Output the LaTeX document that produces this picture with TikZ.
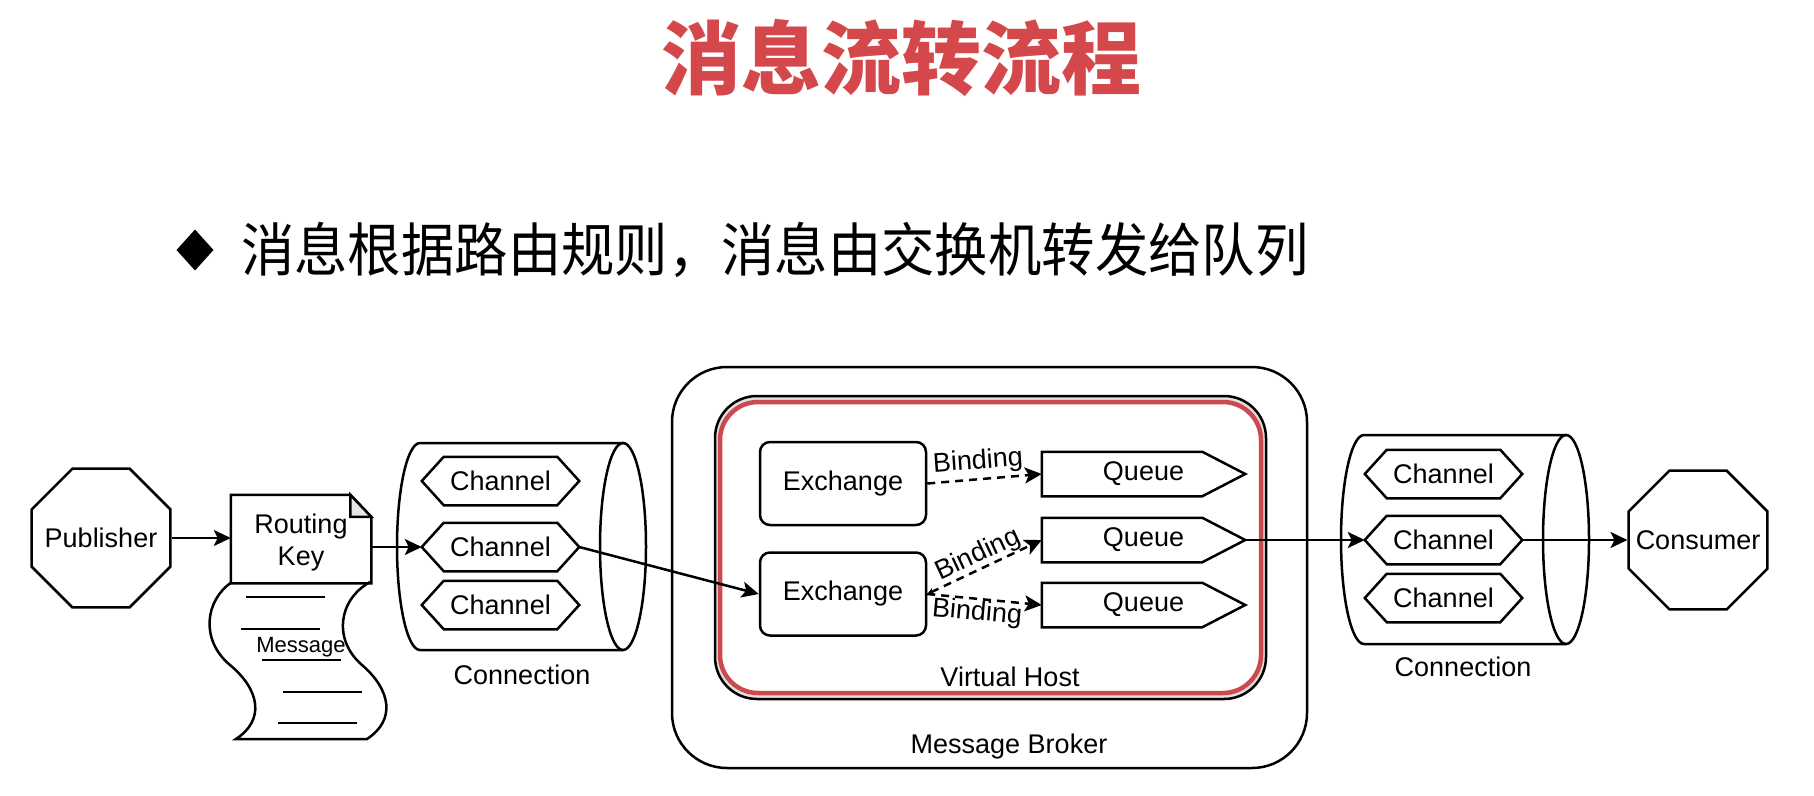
\documentclass[tikz,border=0pt]{standalone}
\usepackage{fontspec}
\setmainfont{Liberation Sans}
\newfontfamily\cjk{Noto Sans CJK SC}
\newfontfamily\cjknarrow[FakeStretch=0.92]{Noto Sans CJK SC}
\usetikzlibrary{shapes.geometric,arrows.meta,calc}
\definecolor{titlered}{HTML}{D4474B}
\definecolor{hostred}{HTML}{CC4A4D}

% outline of a channel (hexagon pointed on both sides)
\newcommand\chanoutline[1]{%
  \draw (#1.west) -- ([xshift=22pt]#1.north west) -- ([xshift=-22pt]#1.north east)
    -- (#1.east) -- ([xshift=-22pt]#1.south east) -- ([xshift=22pt]#1.south west) -- cycle;}
% outline of a queue (pointed on the right)
\newcommand\queueoutline[1]{%
  \draw (#1.north west) -- ([xshift=-43pt]#1.north east) -- (#1.east)
    -- ([xshift=-43pt]#1.south east) -- (#1.south west) -- cycle;}

\begin{document}
\begin{tikzpicture}[x=1pt,y=-1pt,line width=2.5pt,
  lbl/.style={font=\fontsize{27pt}{32pt}\selectfont,inner sep=0pt},
  octo/.style={regular polygon,regular polygon sides=8,minimum size=150pt,draw,inner sep=0pt},
  exbox/.style={draw,rectangle,rounded corners=10pt,minimum width=166pt,minimum height=83pt,
    inner sep=0pt,font=\fontsize{27pt}{32pt}\selectfont},
  chan/.style={rectangle,minimum width=155pt,minimum height=46pt,inner sep=0pt,
    font=\fontsize{27pt}{32pt}\selectfont},
  queuebox/.style={rectangle,minimum width=201pt,minimum height=42pt,inner sep=0pt,
    font=\fontsize{27pt}{32pt}\selectfont},
  conn/.style={-{Stealth[length=17pt,width=16pt,inset=4pt]}},
  bind/.style={conn,dash pattern=on 8pt off 6pt},
]
\useasboundingbox (0,0) rectangle (1814,795);
\fill[white] (0,0) rectangle (1814,795);

% headings
\node[font=\cjk\bfseries\fontsize{80pt}{90pt}\selectfont,text=titlered,inner sep=0pt] (title) at (901,58) {消息流转流程};
\node[diamond,fill=black,minimum width=38pt,minimum height=42pt,inner sep=0pt] (bullet) at (195,250) {};
\node[anchor=west,font=\cjknarrow\fontsize{58pt}{64pt}\selectfont,inner sep=0pt] (subtitle) at (240,250)
  {消息根据路由规则，消息由交换机转发给队列};

% publisher and consumer
\node[octo] (pub) at (101,538) {};
\node[lbl] (pubtext) at (pub.center) {Publisher};
\node[octo] (cons) at (1698,540) {};
\node[lbl] (constext) at (cons.center) {Consumer};

% routing key card with folded corner
\node[rectangle,minimum width=138pt,minimum height=86pt,inner sep=0pt] (rk) at (301,539) {};
\node[align=center,inner sep=0pt,font=\fontsize{27pt}{32pt}\selectfont] (rktext) at (301,543) {Routing\\Key};
\draw (rk.north west) -- ([xshift=-21pt]rk.north east) -- ([yshift=-22pt]rk.north east)
  -- (rk.south east) -- (rk.south west) -- cycle;
\filldraw[fill=gray!20] ([xshift=-21pt]rk.north east) -- ([xshift=-21pt,yshift=-22pt]rk.north east)
  -- ([yshift=-22pt]rk.north east) -- cycle;

% message sheet below the card
\draw (232,582) .. controls (205,600) and (200,640) .. (230,665)
  .. controls (260,690) and (265,720) .. (236,739) -- (367,739)
  .. controls (396,720) and (391,690) .. (362,665)
  .. controls (333,640) and (338,600) .. (370,582);
\draw (246,597) -- (325,597);
\draw (241,629) -- (320,629);
\draw (262,660) -- (341,660);
\draw (283,692) -- (362,692);
\draw (278,723) -- (357,723);
\node[font=\fontsize{22pt}{26pt}\selectfont,inner sep=0pt] (msg) at (301,647) {Message};

% left connection
\draw (623,443) -- (420,443) arc[start angle=270,end angle=90,x radius=23,y radius=103.5] -- (623,650);
\draw (623,546.5) ellipse[x radius=23,y radius=103.5];
\node[chan] (lc1) at (500.5,481) {Channel};
\node[chan] (lc2) at (500.5,547) {Channel};
\node[chan] (lc3) at (500.5,605) {Channel};
\chanoutline{lc1}\chanoutline{lc2}\chanoutline{lc3}
\node[lbl] (lconn) at (522,675) {Connection};

% right connection
\draw (1566,435) -- (1364,435) arc[start angle=270,end angle=90,x radius=23,y radius=104.5] -- (1566,644);
\draw (1566,539.5) ellipse[x radius=23,y radius=104.5];
\node[chan] (rc1) at (1443.5,474) {Channel};
\node[chan] (rc2) at (1443.5,540) {Channel};
\node[chan] (rc3) at (1443.5,598) {Channel};
\chanoutline{rc1}\chanoutline{rc2}\chanoutline{rc3}
\node[lbl] (rconn) at (1463,667) {Connection};

% message broker and virtual host
\node[draw,rectangle,rounded corners=55pt,minimum width=635pt,minimum height=401pt,inner sep=0pt] (broker) at (989.5,567.5) {};
\node[lbl] (brokerlbl) at (1009,747) {Message Broker};
\filldraw[fill=gray!25,rounded corners=42pt] (715,396) rectangle (1266,699);
\filldraw[draw=hostred,line width=4.5pt,fill=white,rounded corners=38pt] (720,402) rectangle (1261,693);
\node[lbl] (hostlbl) at (1010,677) {Virtual Host};

% exchanges and queues
\node[exbox] (ex1) at (843,483.5) {Exchange};
\node[exbox] (ex2) at (843,594) {Exchange};
\node[queuebox] (q1) at (1143.5,474) {Queue};
\node[queuebox] (q2) at (1143.5,540) {Queue};
\node[queuebox] (q3) at (1143.5,605) {Queue};
\queueoutline{q1}\queueoutline{q2}\queueoutline{q3}

% bindings
\draw[bind] (ex1.east) -- (q1.west);
\draw[bind,{Stealth[length=7pt,width=7pt]}-{Stealth[length=17pt,width=16pt,inset=4pt]}] (ex2.east) -- (q2.west);
\draw[bind] (ex2.east) -- (q3.west);
\node[lbl,rotate=4] (b1) at (978,462) {Binding};
\node[lbl,rotate=25] (b2) at (978,555) {Binding};
\node[lbl,rotate=-5] (b3) at (977,613) {Binding};

% message flow
\draw[conn] (pub.east) -- (pub.east -| rk.west);
\draw[conn] (lc2.west -| rk.east) -- (lc2.west);
\draw[conn] (lc2.east) -- (ex2.west);
\draw[conn] (q2.east) -- (rc2.west);
\draw[conn] (rc2.east) -- (cons.west);
\end{tikzpicture}
\end{document}
